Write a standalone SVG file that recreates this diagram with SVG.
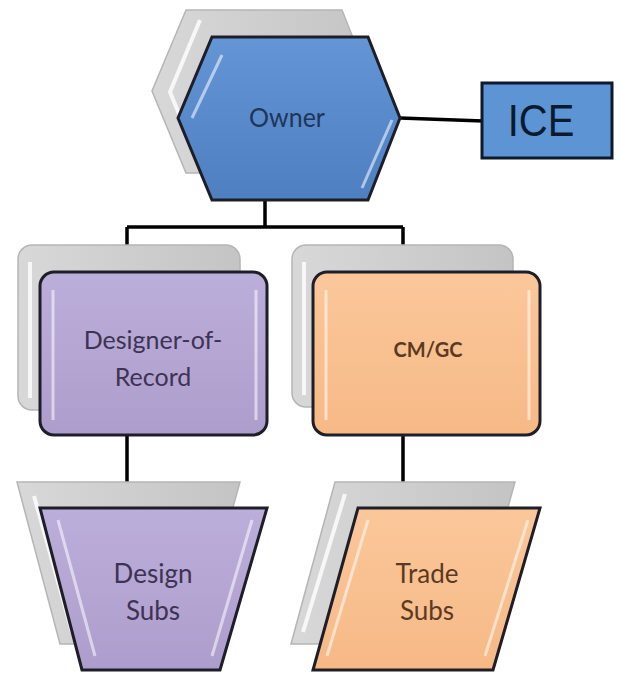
<svg xmlns="http://www.w3.org/2000/svg" width="620" height="673" viewBox="0 0 620 673">
<defs>
<linearGradient id="gBlue" x1="0" y1="0" x2="0" y2="1"><stop offset="0" stop-color="#6496d6"/><stop offset="1" stop-color="#4d7fc1"/></linearGradient>
<linearGradient id="gPurple" x1="0" y1="0" x2="0" y2="1"><stop offset="0" stop-color="#bcaedb"/><stop offset="1" stop-color="#ad9dcc"/></linearGradient>
<linearGradient id="gOrange" x1="0" y1="0" x2="0" y2="1"><stop offset="0" stop-color="#fbc79a"/><stop offset="1" stop-color="#f6b986"/></linearGradient>
<linearGradient id="gGray" x1="0" y1="0" x2="1" y2="0"><stop offset="0" stop-color="#d8d8d8"/><stop offset="1" stop-color="#c4c4c4"/></linearGradient>
</defs>
<style>
.shadow{fill:url(#gGray);stroke:#b5b5b5;stroke-width:1.5}
.shadowHi{fill:none;stroke:#ffffff;stroke-width:4;stroke-opacity:0.8}
.front{stroke:#1e1e28;stroke-width:3}
.hi{fill:none;stroke:#ffffff;stroke-width:3;stroke-opacity:0.55}
.conn{stroke:#000;stroke-width:3.5;fill:none}
.lbl{font-family:Lato,"Open Sans",sans-serif;text-anchor:middle}
</style>
<g id="connectors">
<path class="conn" d="M265,200 V227 M127,227 H403 M127,227 V246 M403,227 V246"/>
<path class="conn" d="M127,435 V483 M403,435 V483"/>
<path class="conn" d="M400,118 L483,121"/>
</g>
<g id="owner">
<polygon class="shadow" points="186,10 342,10 374,91 342,173 186,173 152,91"/>
<polyline class="shadowHi" points="200,20 170,92 200,165"/>
<polygon class="front" fill="url(#gBlue)" stroke="#16263f" points="212,37 368,37 400,118 368,200 212,200 178,118"/>
<polyline class="hi" points="222,55 192,118"/>
<polyline class="hi" points="392,120 362,188"/>
<text class="lbl" x="287" y="127" font-size="25" fill="#1f3658" transform="translate(0,-12.7) scale(1,1.1)">Owner</text>
</g>
<g id="ice">
<rect x="482" y="83" width="130" height="75" fill="#5d94d4" stroke="#0d1a2c" stroke-width="3"/>
<text x="541" y="136" font-family="'Liberation Sans',Arial,sans-serif" font-size="40" text-anchor="middle" fill="#0c1a2e" transform="translate(0,-16.3) scale(1,1.12)">ICE</text>
</g>
<g id="designer">
<rect class="shadow" x="18" y="245" width="222" height="165" rx="14"/>
<path class="shadowHi" d="M30,262 V398"/>
<rect class="front" fill="url(#gPurple)" x="40" y="272" width="227" height="163" rx="14"/>
<path class="hi" d="M53,290 V420 M256,290 V420"/>
<text class="lbl" font-size="25" fill="#3d3352"><tspan x="153" y="349">Designer-of-</tspan><tspan x="153" y="386">Record</tspan></text>
</g>
<g id="cmgc">
<rect class="shadow" x="292" y="245" width="221" height="162" rx="14"/>
<path class="shadowHi" d="M304,262 V395"/>
<rect class="front" fill="url(#gOrange)" x="313" y="272" width="227" height="163" rx="14"/>
<path class="hi" d="M326,290 V420 M529,290 V420"/>
<text class="lbl" x="428" y="357" font-size="20" font-weight="bold" fill="#5a3b22">CM/GC</text>
</g>
<g id="designsubs">
<polygon class="shadow" points="17,482 240,482 195,644 60,644"/>
<polyline class="shadowHi" points="34,496 72,632"/>
<polygon class="front" fill="url(#gPurple)" points="40,508 267,508 220,670 82,670"/>
<polyline class="hi" points="58,520 95,656"/>
<polyline class="hi" points="252,520 212,656"/>
<text class="lbl" font-size="26" fill="#3d3352"><tspan x="153" y="583">Design</tspan><tspan x="153" y="620">Subs</tspan></text>
</g>
<g id="tradesubs">
<polygon class="shadow" points="335,482 515,482 470,644 291,644"/>
<polyline class="shadowHi" points="345,494 303,632"/>
<polygon class="front" fill="url(#gOrange)" points="358,508 540,508 493,670 313,670"/>
<polyline class="hi" points="368,520 327,656"/>
<polyline class="hi" points="528,520 485,656"/>
<text class="lbl" font-size="26" fill="#5a3b22"><tspan x="427" y="583">Trade</tspan><tspan x="427" y="620">Subs</tspan></text>
</g>
</svg>
